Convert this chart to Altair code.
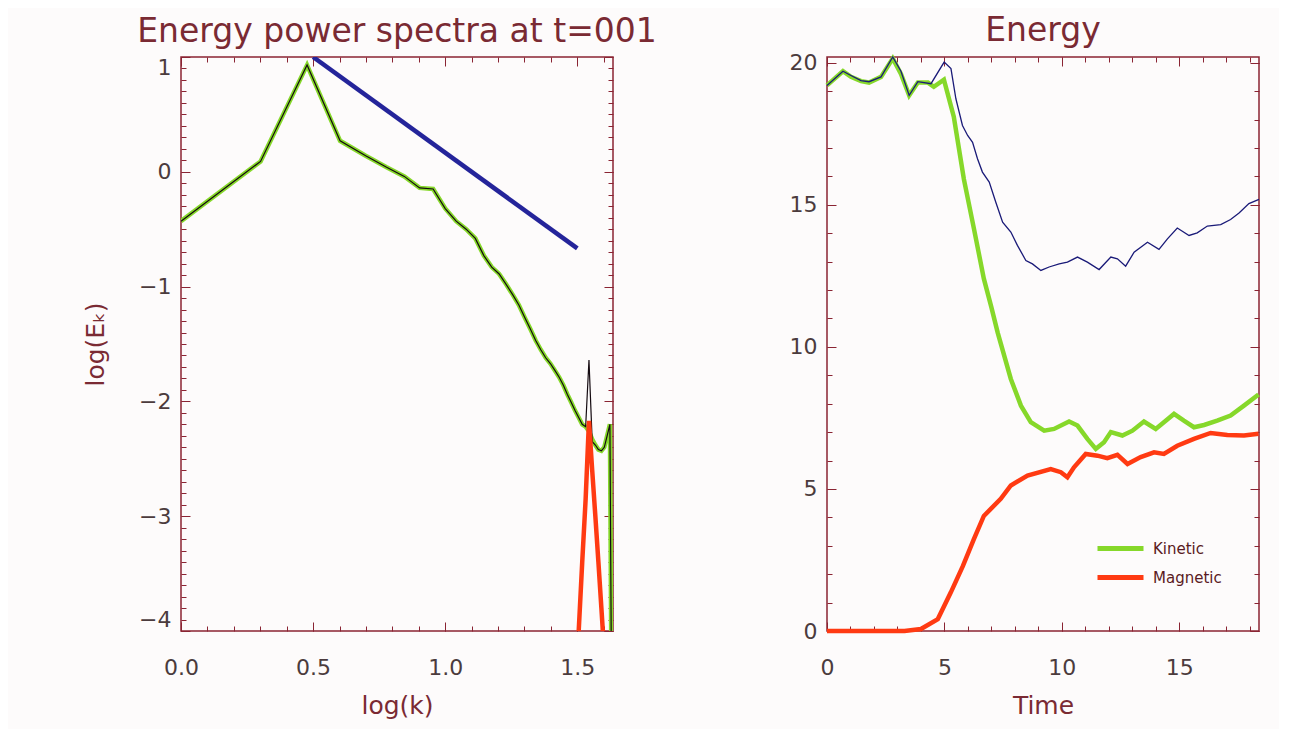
import altair as alt
import pandas as pd
import numpy as np

# ---------------- colours ----------------
MAROON = "#8a2433"
LABEL = "#4b3b3d"
TITLE = "#7a2a33"
GREEN = "#86d82a"
RED = "#ff3a12"
NAVY = "#1a1a78"
BLUE = "#24249a"
BG = "#fdfbfb"

# ---------------- left panel data (power spectra) ----------------
k = list(range(1, 44))
kin_logE = [-0.43, 0.09, 0.93, 0.27, 0.14, 0.04, -0.04, -0.14, -0.15, -0.32,
            -0.43, -0.50, -0.58, -0.73, -0.83, -0.89, -0.98, -1.07, -1.16, -1.27,
            -1.37, -1.47, -1.55, -1.62, -1.67, -1.73, -1.79, -1.86, -1.94, -2.01,
            -2.08, -2.14, -2.20, -2.22, -2.26, -2.33, -2.38, -2.42, -2.43, -2.40,
            -2.30, -2.20, -6.0]
tot_logE = [-0.43, 0.09, 0.93, 0.27, 0.14, 0.04, -0.04, -0.14, -0.15, -0.32,
            -0.43, -0.50, -0.58, -0.73, -0.83, -0.89, -0.98, -1.07, -1.16, -1.27,
            -1.37, -1.47, -1.55, -1.62, -1.67, -1.73, -1.79, -1.86, -1.94, -2.01,
            -2.08, -2.14, -2.20, -2.22, -1.64, -2.35, -2.38, -2.42, -2.43, -2.40,
            -2.30, -2.20, -6.0]
mag_k = [31, 32, 33, 34, 35, 36, 37, 38, 39, 40]
mag_logE = [-4.6, -4.0, -3.4, -2.85, -2.17, -2.6, -3.0, -3.4, -3.8, -4.2]
slope_logk = [0.5, 1.5]
slope_logE = [1.0, -0.667]

# ---------------- right panel data (energy vs time) ----------------
t_kin = [0.0, 0.68, 1.02, 1.45, 1.79, 2.3, 2.8, 3.15, 3.5, 3.87, 4.3, 4.55, 4.98,
         5.4, 5.83, 6.26, 6.68, 7.0, 7.27, 7.83, 8.26, 8.68, 9.25, 9.67, 10.31,
         10.67, 11.09, 11.45, 11.8, 12.09, 12.58, 13.01, 13.5, 14.0, 14.35,
         14.78, 15.2, 15.63, 16.06, 16.62, 17.19, 17.76, 18.38]
e_kin = [19.2, 19.7, 19.5, 19.35, 19.3, 19.5, 20.15, 19.6, 18.85, 19.3, 19.3, 19.15, 19.4,
         18.1, 15.9, 14.15, 12.4, 11.4, 10.5, 8.87, 7.93, 7.35, 7.05, 7.11, 7.37,
         7.23, 6.76, 6.41, 6.64, 7.0, 6.88, 7.05, 7.37, 7.11, 7.35,
         7.64, 7.4, 7.17, 7.25, 7.4, 7.58, 7.93, 8.32]
t_mag = [0.0, 1.0, 2.0, 3.3, 4.0, 4.72, 5.28, 5.79, 6.26, 6.68, 7.4, 7.83, 8.54,
         9.53, 9.96, 10.24, 10.52, 11.02, 11.52, 11.94, 12.37, 12.8, 13.36, 13.93,
         14.35, 14.92, 15.63, 16.34, 17.05, 17.76, 18.38]
e_mag = [0.0, 0.0, 0.0, 0.0, 0.07, 0.42, 1.37, 2.29, 3.24, 4.05, 4.65, 5.12, 5.47,
         5.7, 5.59, 5.41, 5.76, 6.23, 6.17, 6.08, 6.2, 5.88, 6.12, 6.29,
         6.23, 6.52, 6.76, 6.97, 6.9, 6.88, 6.94]
t_tot = [0.0, 0.68, 1.02, 1.45, 1.79, 2.3, 2.8, 3.15, 3.5, 3.87, 4.43, 4.99, 5.28,
         5.49, 5.77, 5.99, 6.2, 6.41, 6.62, 6.91, 7.19, 7.48, 7.83, 8.11, 8.47,
         8.75, 9.11, 9.46, 9.89, 10.24, 10.67, 11.09, 11.59, 12.09, 12.37, 12.72,
         13.08, 13.65, 14.14, 14.5, 14.92, 15.42, 15.77, 16.2, 16.77, 17.19, 17.55,
         17.97, 18.4]
e_tot = [19.2, 19.7, 19.55, 19.37, 19.33, 19.5, 20.2, 19.7, 18.85, 19.33, 19.26, 20.02, 19.79,
         18.73, 17.79, 17.44, 17.2, 16.62, 16.15, 15.8, 15.09, 14.39, 14.04, 13.57, 13.04,
         12.92, 12.69, 12.81, 12.92, 12.98, 13.16, 12.98, 12.72, 13.16, 13.1, 12.84,
         13.33, 13.68, 13.43, 13.8, 14.18, 13.92, 14.01, 14.25, 14.3, 14.48, 14.71,
         15.04, 15.19]

# ---------------- tables ----------------
spec_kin = pd.DataFrame({"logk": np.log10(k), "logE": kin_logE})
spec_tot = pd.DataFrame({"logk": np.log10(k), "logE": tot_logE})
spec_mag = pd.DataFrame({"logk": np.log10(mag_k), "logE": mag_logE})
spec_slope = pd.DataFrame({"logk": slope_logk, "logE": slope_logE})

energy_km = pd.concat([
    pd.DataFrame({"t": t_kin, "E": e_kin, "series": "Kinetic"}),
    pd.DataFrame({"t": t_mag, "E": e_mag, "series": "Magnetic"}),
])
energy_tot = pd.DataFrame({"t": t_tot, "E": e_tot})

FONT = "DejaVu Sans"
W, H = 432, 574
MAJ, MIN = 9, 5


def tick_axis(orient, values, size):
    return alt.Axis(orient=orient, values=values, tickSize=size, offset=-size,
                    labels=False, domain=False, grid=False, ticks=True,
                    tickColor=MAROON, tickWidth=1, title="")


def label_axis(orient, values, title, fmt, flush, lpad, tpad=10):
    return alt.Axis(orient=orient, values=values, tickSize=MAJ, offset=-MAJ,
                    labels=True, domain=False, grid=False, ticks=True,
                    tickColor=MAROON, tickWidth=1, title=title, format=fmt,
                    labelFont=FONT, labelFontSize=22, labelColor=LABEL,
                    labelPadding=lpad, labelFlush=flush,
                    titleFont=FONT, titleFontSize=25, titleColor=TITLE,
                    titleFontWeight="normal", titlePadding=tpad)


# ---------------- left panel ----------------
xl = alt.Scale(domain=[0, 1.635], nice=False, zero=False)
yl = alt.Scale(domain=[-4, 1], nice=False, zero=False)
xl_major = [0.0, 0.5, 1.0, 1.5]
xl_minor = [round(v, 1) for v in np.arange(0, 1.65, 0.1)]
yl_major = [-4, -3, -2, -1, 0, 1]
yl_minor = [round(v, 1) for v in np.arange(-4, 1.05, 0.1)]

l1 = alt.Chart(spec_kin).mark_line(color=GREEN, strokeWidth=4.5, clip=True).encode(
    x=alt.X("logk:Q", scale=xl, axis=label_axis("bottom", xl_major, "log(k)", ".1f", False, 26, 15)),
    y=alt.Y("logE:Q", scale=yl, axis=label_axis("left", yl_major, "log(Eₖ)", "d", True, 10, 30)),
)
l2 = alt.Chart(spec_tot).mark_line(color="#140a10", strokeWidth=1.2, clip=True).encode(
    x=alt.X("logk:Q", scale=xl, axis=tick_axis("bottom", xl_minor, MIN)),
    y=alt.Y("logE:Q", scale=yl, axis=tick_axis("left", yl_minor, MIN)),
)
l3 = alt.Chart(spec_mag).mark_line(color=RED, strokeWidth=4.5, clip=True).encode(
    x=alt.X("logk:Q", scale=xl, axis=tick_axis("top", xl_major, MAJ)),
    y=alt.Y("logE:Q", scale=yl, axis=tick_axis("right", yl_major, MAJ)),
)
l4 = alt.Chart(spec_slope).mark_line(color=BLUE, strokeWidth=4.5, clip=True).encode(
    x=alt.X("logk:Q", scale=xl, axis=tick_axis("top", xl_minor, MIN)),
    y=alt.Y("logE:Q", scale=yl, axis=tick_axis("right", yl_minor, MIN)),
)
left = alt.layer(l1, l2, l3, l4).resolve_axis(x="independent", y="independent").properties(
    width=W, height=H,
    title=alt.TitleParams("Energy power spectra at t=001", font=FONT, fontSize=33,
                          color=TITLE, fontWeight="normal", offset=7),
)

# ---------------- right panel ----------------
xr = alt.Scale(domain=[0, 18.4], nice=False, zero=False)
yr = alt.Scale(domain=[0, 20.2], nice=False, zero=False)
xr_major = [0, 5, 10, 15]
xr_minor = list(range(0, 19))
yr_major = [0, 5, 10, 15, 20]
yr_minor = list(range(0, 21))

r1 = alt.Chart(energy_km).mark_line(strokeWidth=4.5).encode(
    x=alt.X("t:Q", scale=xr, axis=label_axis("bottom", xr_major, "Time", "d", False, 26, 15)),
    y=alt.Y("E:Q", scale=yr, axis=label_axis("left", yr_major, "", "d", False, 10)),
    color=alt.Color("series:N",
                    scale=alt.Scale(domain=["Kinetic", "Magnetic"], range=[GREEN, RED]),
                    legend=alt.Legend(orient="none", legendX=932, legendY=484, title=None,
                                      symbolType="M-4.6,0H4.6", symbolSize=100,
                                      symbolStrokeWidth=5, labelOffset=25, rowPadding=8,
                                      labelFont=FONT, labelFontSize=15, labelColor="#5a1a22",
                                      padding=0)),
)
r2 = alt.Chart(energy_tot).mark_line(color=NAVY, strokeWidth=1.3).encode(
    x=alt.X("t:Q", scale=xr, axis=tick_axis("bottom", xr_minor, MIN)),
    y=alt.Y("E:Q", scale=yr, axis=tick_axis("left", yr_minor, MIN)),
)
r3 = alt.Chart(energy_tot).mark_line(opacity=0).encode(
    x=alt.X("t:Q", scale=xr, axis=tick_axis("top", xr_major, MAJ)),
    y=alt.Y("E:Q", scale=yr, axis=tick_axis("right", yr_major, MAJ)),
)
r4 = alt.Chart(energy_tot).mark_line(opacity=0).encode(
    x=alt.X("t:Q", scale=xr, axis=tick_axis("top", xr_minor, MIN)),
    y=alt.Y("E:Q", scale=yr, axis=tick_axis("right", yr_minor, MIN)),
)
right = alt.layer(r1, r2, r3, r4).resolve_axis(x="independent", y="independent").properties(
    width=W, height=H,
    title=alt.TitleParams("Energy", font=FONT, fontSize=33, color=TITLE,
                          fontWeight="normal", offset=1),
)

chart = alt.hconcat(left, right, spacing=214, bounds="flush").properties(
    autosize=alt.AutoSizeParams(type="pad"),
    padding={"left": 74, "top": 6, "right": 10, "bottom": 10},
    background=BG,
).configure_view(stroke=MAROON, strokeWidth=1.5, fill=BG)

chart.save("out.html", embed_options={"renderer": "svg", "actions": False})
